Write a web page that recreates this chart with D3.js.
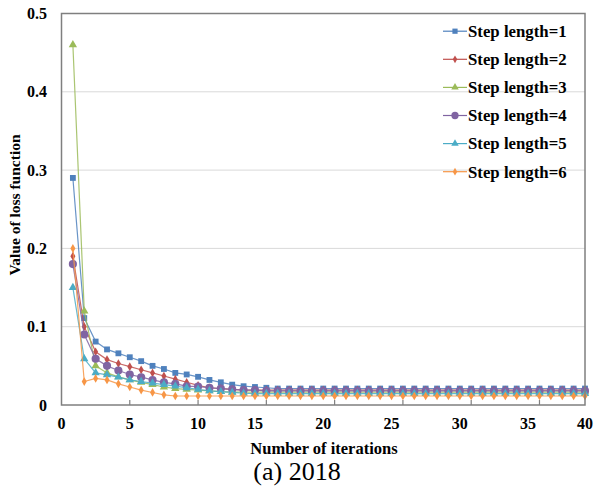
<!DOCTYPE html>
<html><head><meta charset="utf-8">
<script src="https://cdn.jsdelivr.net/npm/d3@7/dist/d3.min.js"></script>
<style>body{margin:0;background:#fff}svg{display:block}</style>
</head><body>
<svg id="chart" width="594" height="489"></svg>
<script>
// ---------- data ----------
const iterations = [1,2,3,4,5,6,7,8,9,10,11,12,13,14,15,16,17,18,19,20,21,22,23,24,25,26,27,28,29,30,31,32,33,34,35,36,37,38,39,40,41,42,43,44,45,46];
const seriesNames = ["Step length=1","Step length=2","Step length=3","Step length=4","Step length=5","Step length=6"];
const step1 = [0.290,0.111,0.081,0.071,0.066,0.061,0.056,0.050,0.046,0.041,0.039,0.036,0.032,0.029,0.026,0.024,0.023,0.022,0.021,0.021,0.021,0.021,0.021,0.021,0.021,0.021,0.021,0.021,0.021,0.021,0.021,0.021,0.021,0.021,0.021,0.021,0.021,0.021,0.021,0.021,0.021,0.021,0.021,0.021,0.021,0.021];
const step2 = [0.190,0.100,0.068,0.058,0.053,0.049,0.045,0.041,0.037,0.033,0.029,0.025,0.022,0.021,0.020,0.019,0.019,0.019,0.019,0.019,0.019,0.019,0.019,0.019,0.019,0.019,0.019,0.019,0.019,0.019,0.019,0.019,0.019,0.019,0.019,0.019,0.019,0.019,0.019,0.019,0.019,0.019,0.019,0.019,0.019,0.019];
const step3 = [0.460,0.120,0.050,0.041,0.036,0.032,0.029,0.026,0.023,0.021,0.020,0.019,0.018,0.017,0.0165,0.0165,0.0165,0.0165,0.0165,0.0165,0.0165,0.0165,0.0165,0.0165,0.0165,0.0165,0.0165,0.0165,0.0165,0.0165,0.0165,0.0165,0.0165,0.0165,0.0165,0.0165,0.0165,0.0165,0.0165,0.0165,0.0165,0.0165,0.0165,0.0165,0.0165,0.0165];
const step4 = [0.180,0.090,0.059,0.050,0.044,0.039,0.0355,0.032,0.029,0.027,0.024,0.0235,0.022,0.021,0.020,0.019,0.019,0.018,0.018,0.018,0.018,0.018,0.018,0.018,0.018,0.018,0.018,0.018,0.018,0.018,0.018,0.018,0.018,0.018,0.018,0.018,0.018,0.018,0.018,0.018,0.018,0.018,0.018,0.018,0.018,0.018];
const step5 = [0.150,0.059,0.041,0.0385,0.0355,0.032,0.030,0.028,0.026,0.024,0.022,0.020,0.018,0.017,0.016,0.015,0.0145,0.0145,0.0145,0.0145,0.0145,0.0145,0.0145,0.0145,0.0145,0.0145,0.0145,0.0145,0.0145,0.0145,0.0145,0.0145,0.0145,0.0145,0.0145,0.0145,0.0145,0.0145,0.0145,0.0145,0.0145,0.0145,0.0145,0.0145,0.0145,0.0145];
const step6 = [0.200,0.030,0.034,0.032,0.027,0.023,0.019,0.016,0.013,0.0115,0.0115,0.0115,0.0115,0.0115,0.0115,0.0115,0.0115,0.0115,0.0115,0.0115,0.0115,0.0115,0.0115,0.0115,0.0115,0.0115,0.0115,0.0115,0.0115,0.0115,0.0115,0.0115,0.0115,0.0115,0.0115,0.0115,0.0115,0.0115,0.0115,0.0115,0.0115,0.0115,0.0115,0.0115,0.0115,0.0115];
const seriesValues = [step1, step2, step3, step4, step5, step6];
const seriesColors = ["#4F81BD","#C0504D","#9BBB59","#8064A2","#4BACC6","#F79646"];
const yTicks = [0, 0.1, 0.2, 0.3, 0.4, 0.5];
const yTickLabels = ["0","0.1","0.2","0.3","0.4","0.5"];
const xTickMarks = [6, 12, 18, 24, 30, 36, 42];
const xTickLabels = ["0","5","10","15","20","25","30","35","40"];
// positions of the printed labels along the point axis
const xTickLabelAt = [0, 6, 12, 17, 23, 29, 35, 41, 46];

// ---------- layout ----------
const svg = d3.select("#chart");
const L = 61.5, R = 585, T = 13.5, B = 405;
const x = d3.scaleLinear().domain([0, 46]).range([L, R]);
const y = d3.scaleLinear().domain([0, 0.5]).range([B, T]);
const serif = "'Liberation Serif','Times New Roman',serif";

// gridlines
svg.append("g").selectAll("line").data(yTicks.slice(1, -1)).join("line")
  .attr("x1", L).attr("x2", R).attr("y1", d => y(d)).attr("y2", d => y(d))
  .attr("stroke", "#d9d9d9").attr("stroke-width", 1);

// y labels
svg.append("g").selectAll("text").data(yTicks).join("text")
  .attr("x", 47).attr("y", d => y(d)).attr("dy", "0.35em")
  .attr("text-anchor", "end").attr("font-family", serif).attr("font-weight", "bold")
  .attr("font-size", 16).text((d, i) => yTickLabels[i]);

// x tick marks (inward)
svg.append("g").selectAll("line").data(xTickMarks).join("line")
  .attr("x1", d => x(d)).attr("x2", d => x(d)).attr("y1", B).attr("y2", B - 5)
  .attr("stroke", "#7f7f7f").attr("stroke-width", 1.2);

// x labels
svg.append("g").selectAll("text").data(xTickLabelAt).join("text")
  .attr("x", d => x(d)).attr("y", 423).attr("dy", "0.35em")
  .attr("text-anchor", "middle").attr("font-family", serif).attr("font-weight", "bold")
  .attr("font-size", 16).text((d, i) => xTickLabels[i]);

// series
const symbols = [d3.symbolSquare, d3.symbolDiamond, d3.symbolTriangle, d3.symbolCircle, d3.symbolTriangle, d3.symbolDiamond];
const sizes = [34, 22, 30, 52, 30, 22];
const line = d3.line().x((d, i) => x(iterations[i])).y(d => y(d));
seriesValues.forEach((vals, s) => {
  const g = svg.append("g");
  g.append("path").datum(vals).attr("d", line).attr("fill", "none")
    .attr("stroke", seriesColors[s]).attr("stroke-width", 1.2).attr("stroke-opacity", 0.85);
  g.selectAll("path.m").data(vals).join("path").attr("class", "m")
    .attr("transform", (d, i) => `translate(${x(iterations[i])},${y(d)})`)
    .attr("d", d3.symbol().type(symbols[s]).size(sizes[s]))
    .attr("fill", seriesColors[s]);
});

// frame
svg.append("rect").attr("x", L).attr("y", T).attr("width", R - L).attr("height", B - T)
  .attr("fill", "none").attr("stroke", "#7f7f7f").attr("stroke-width", 1.5);

// legend
const leg = svg.append("g");
seriesNames.forEach((name, s) => {
  const cy = 31.2 + s * 28.1;
  leg.append("line").attr("x1", 443).attr("x2", 467).attr("y1", cy).attr("y2", cy)
    .attr("stroke", seriesColors[s]).attr("stroke-width", 1.2);
  leg.append("path").attr("transform", `translate(455,${cy})`)
    .attr("d", d3.symbol().type(symbols[s]).size(sizes[s] * 0.8)).attr("fill", seriesColors[s]);
  leg.append("text").attr("x", 468).attr("y", cy).attr("dy", "0.35em")
    .attr("font-family", serif).attr("font-weight", "bold").attr("font-size", 16.8)
    .text(name);
});

// axis titles
svg.append("text").attr("transform", "translate(15,205) rotate(-90)").attr("dy", "0.35em")
  .attr("text-anchor", "middle").attr("font-family", serif).attr("font-weight", "bold")
  .attr("font-size", 15.5).text("Value of loss function");
svg.append("text").attr("x", 324).attr("y", 448).attr("dy", "0.35em")
  .attr("text-anchor", "middle").attr("font-family", serif).attr("font-weight", "bold")
  .attr("font-size", 16.5).text("Number of iterations");
svg.append("text").attr("x", 297).attr("y", 471).attr("dy", "0.35em")
  .attr("text-anchor", "middle").attr("font-family", serif)
  .attr("font-size", 26).text("(a) 2018");
</script>
</body></html>
